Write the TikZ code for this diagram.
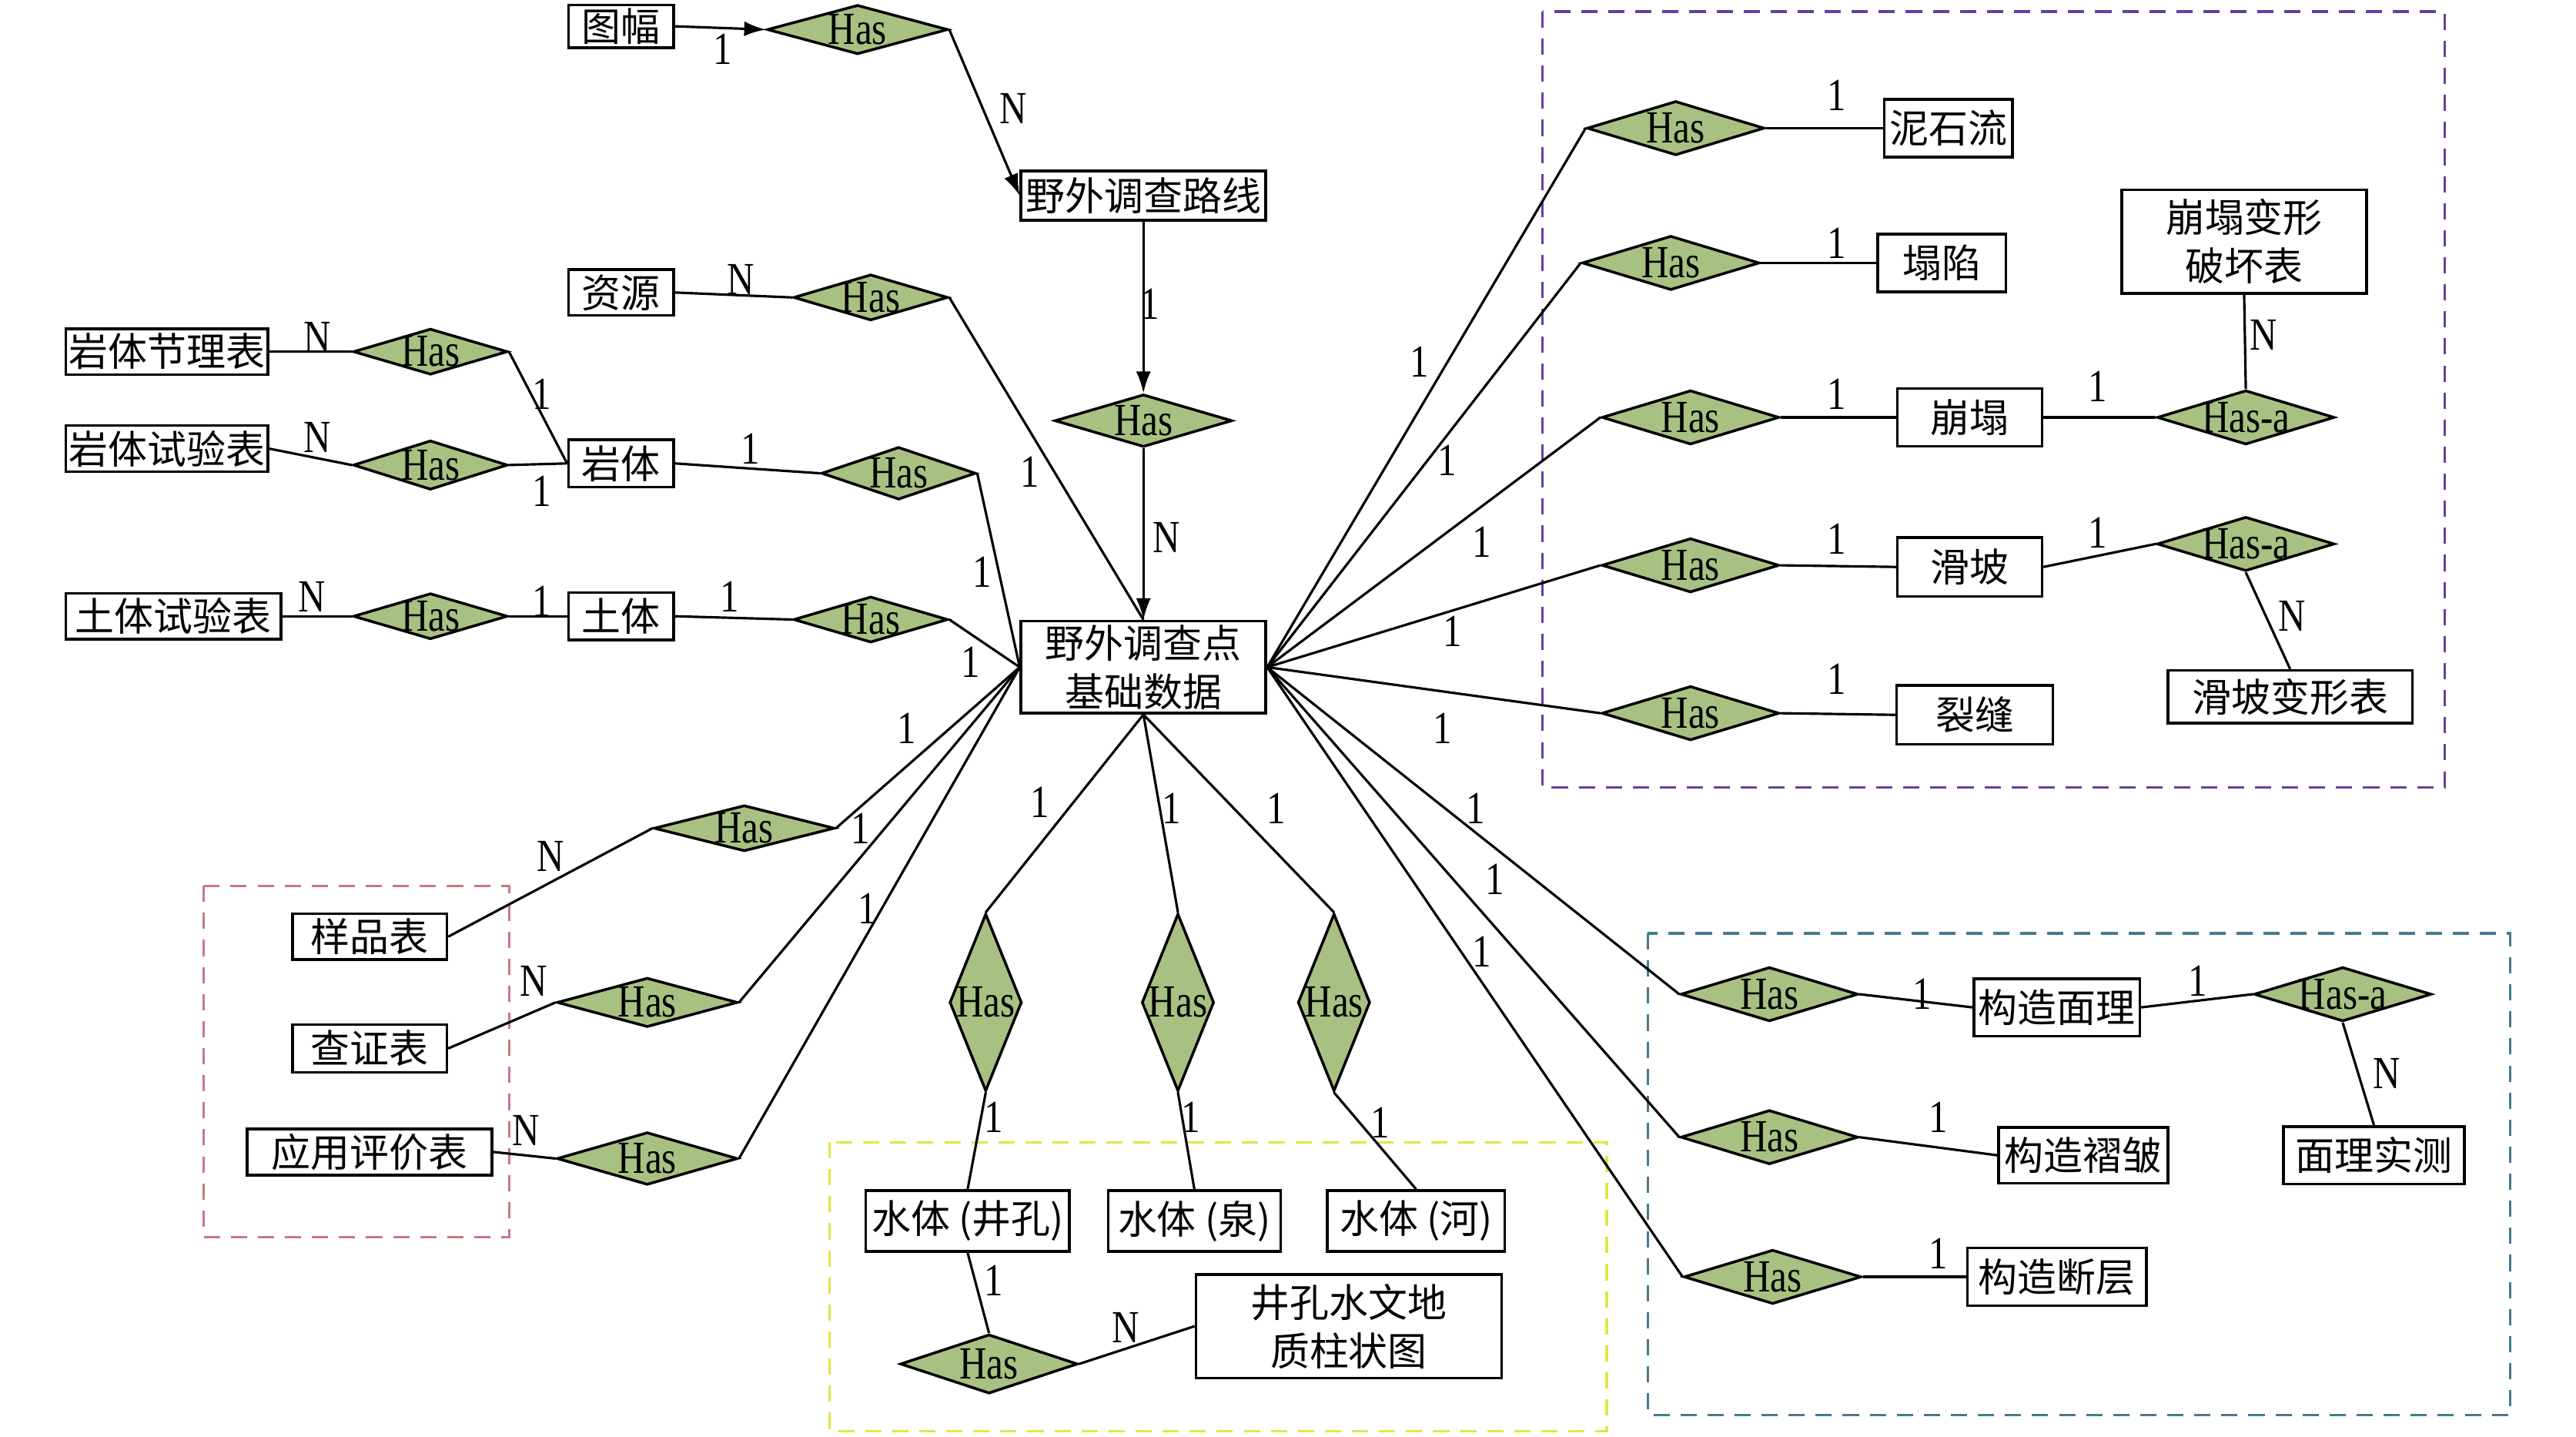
\documentclass[tikz,border=0pt]{standalone}
\usepackage{fontspec}
\setmainfont{Liberation Serif}[FakeStretch=0.82]
\newfontfamily\cjk{Noto Sans CJK SC}
\usetikzlibrary{shapes.geometric,arrows.meta}

\definecolor{relgreen}{RGB}{168,193,130}
\definecolor{grppink}{RGB}{200,120,130}
\definecolor{grpyellow}{RGB}{225,230,70}
\definecolor{grpblue}{RGB}{70,122,142}
\definecolor{grppurple}{RGB}{105,62,160}

\tikzset{
  ent/.style 2 args={draw, line width=1pt, fill=white, align=center, inner sep=0pt,
    font=\cjk\fontsize{14.5}{18}\selectfont,
    minimum width=#1*0.02134cm, minimum height=#2*0.02134cm},
  rel/.style 2 args={diamond, draw, line width=1pt, fill=relgreen, aspect=3,
    inner xsep=-6pt, inner ysep=0pt, font=\fontsize{17}{19}\selectfont,
    minimum width=#1*0.02134cm, minimum height=#2*0.02134cm},
  lab/.style={font=\fontsize{17}{19}\selectfont, inner sep=0pt},
  link/.style={line width=0.9pt},
  arr/.style={link, -{Latex[length=8pt,width=5.5pt]}},
  group/.style={line width=0.9pt, dash pattern=on 6pt off 4pt},
}

\begin{document}
\begin{tikzpicture}[x=0.02134cm, y=-0.02134cm]
\useasboundingbox (0,0) rectangle (1568,874);

% dashed groups
\draw[group, grppink] (124,539) rectangle (310,753);
\draw[group, grpyellow] (505,695) rectangle (978,871);
\draw[group, grpblue] (1003,568) rectangle (1528,861);
\draw[group, grppurple] (939,7) rectangle (1488,479);

% entities
\node[ent={64}{26}] (tufu) at (378,16) {图幅};
\node[ent={149}{30}] (route) at (696,119) {野外调查路线};
\node[ent={149}{56}] (base) at (696,406) {野外调查点\\基础数据};
\node[ent={64}{28}] (res) at (378,178) {资源};
\node[ent={123}{28}] (yjl) at (101.5,214) {岩体节理表};
\node[ent={123}{28}] (ysy) at (101.5,273) {岩体试验表};
\node[ent={64}{29}] (rock) at (378,282) {岩体};
\node[ent={131}{28}] (tsy) at (105.5,375) {土体试验表};
\node[ent={64}{29}] (soil) at (378,375) {土体};
\node[ent={94}{28}] (ypb) at (225,570) {样品表};
\node[ent={94}{29}] (czb) at (225,638) {查证表};
\node[ent={149}{28}] (yypj) at (225,701) {应用评价表};
\node[ent={124}{37}] (wwell) at (589,743) {水体 (井孔)};
\node[ent={105}{37}] (wspr) at (727,743) {水体 (泉)};
\node[ent={108}{37}] (wriv) at (862,743) {水体 (河)};
\node[ent={186}{63}] (zzt) at (821,807) {井孔水文地\\质柱状图};
\node[ent={78}{35}] (nsl) at (1186,78) {泥石流};
\node[ent={78}{35}] (tx) at (1182,160) {塌陷};
\node[ent={88}{35}] (bt) at (1199,254) {崩塌};
\node[ent={149}{63}] (btb) at (1366,147) {崩塌变形\\破坏表};
\node[ent={88}{36}] (hp) at (1199,345) {滑坡};
\node[ent={149}{32}] (hpb) at (1394,424) {滑坡变形表};
\node[ent={95}{36}] (lf) at (1202,435) {裂缝};
\node[ent={101}{35}] (gzml) at (1252,613) {构造面理};
\node[ent={103}{34}] (gzzz) at (1268,703) {构造褶皱};
\node[ent={109}{35}] (gzdc) at (1252,777) {构造断层};
\node[ent={110}{35}] (mlsc) at (1445,703) {面理实测};

% relations
\node[rel={110}{30}] (h1) at (522,18) {Has};
\node[rel={108}{32}] (h2) at (696,256) {Has};
\node[rel={94}{28}] (hzy) at (530,181) {Has};
\node[rel={94}{28}] (hjl) at (262,214) {Has};
\node[rel={94}{30}] (hsy) at (262,283) {Has};
\node[rel={94}{32}] (hrock) at (547,288) {Has};
\node[rel={94}{28}] (htsy) at (262,375) {Has};
\node[rel={94}{28}] (hsoil) at (530,377) {Has};
\node[rel={110}{28}] (hypb) at (453,504) {Has};
\node[rel={110}{30}] (hczb) at (394,610) {Has};
\node[rel={110}{32}] (hyypj) at (394,705) {Has};
\node[rel={44}{108}, aspect=0.5] (hwell) at (600,610) {Has};
\node[rel={44}{108}, aspect=0.5] (hspr) at (717,610) {Has};
\node[rel={44}{108}, aspect=0.5] (hriv) at (812,610) {Has};
\node[rel={108}{36}] (hzzt) at (602,830) {Has};
\node[rel={108}{33}] (hnsl) at (1020,78) {Has};
\node[rel={108}{33}] (htx) at (1017,160) {Has};
\node[rel={108}{33}] (hbt) at (1029,254) {Has};
\node[rel={108}{33}] (hbta) at (1367,254) {Has-a};
\node[rel={108}{33}] (hhp) at (1029,344) {Has};
\node[rel={108}{33}] (hhpa) at (1367,331) {Has-a};
\node[rel={108}{33}] (hlf) at (1029,434) {Has};
\node[rel={108}{33}] (hgzml) at (1077,605) {Has};
\node[rel={108}{33}] (hgzmla) at (1426,605) {Has-a};
\node[rel={108}{33}] (hgzzz) at (1077,692) {Has};
\node[rel={108}{33}] (hgzdc) at (1079,777) {Has};

% top chain
\draw[arr] (tufu.east) -- (h1.west) node[lab] at (440,30) {1};
\draw[arr] (h1.east) -- (route.west) node[lab] at (617,66) {N};
\draw[arr] (route.south) -- (h2.north) node[lab] at (700,185) {1};
\draw[arr] (h2.south) -- (base.north) node[lab] at (710,327) {N};

% left side
\draw[link] (res.east) -- (hzy.west) node[lab] at (451,170) {N};
\draw[link] (hzy.east) -- (base.north) node[lab] at (627,287) {1};
\draw[link] (yjl.east) -- (hjl.west) node[lab] at (193,205) {N};
\draw[link] (hjl.east) -- (rock.west) node[lab] at (330,240) {1};
\draw[link] (ysy.east) -- (hsy.west) node[lab] at (193,266) {N};
\draw[link] (hsy.east) -- (rock.west) node[lab] at (330,299) {1};
\draw[link] (rock.east) -- (hrock.west) node[lab] at (457,273) {1};
\draw[link] (hrock.east) -- (base.west) node[lab] at (598,348) {1};
\draw[link] (tsy.east) -- (htsy.west) node[lab] at (190,363) {N};
\draw[link] (htsy.east) -- (soil.west) node[lab] at (330,366) {1};
\draw[link] (soil.east) -- (hsoil.west) node[lab] at (444,363) {1};
\draw[link] (hsoil.east) -- (base.west) node[lab] at (591,403) {1};
\draw[link] (base.west) -- (hypb.east) node[lab] at (552,443) {1};
\draw[link] (hypb.west) -- (ypb.east) node[lab] at (335,521) {N};
\draw[link] (base.west) -- (hczb.east) node[lab] at (524,504) {1};
\draw[link] (hczb.west) -- (czb.east) node[lab] at (325,597) {N};
\draw[link] (base.west) -- (hyypj.east) node[lab] at (528,553) {1};
\draw[link] (hyypj.west) -- (yypj.east) node[lab] at (320,688) {N};

% water
\draw[link] (base.south) -- (hwell.north) node[lab] at (633,488) {1};
\draw[link] (base.south) -- (hspr.north) node[lab] at (713,492) {1};
\draw[link] (base.south) -- (hriv.north) node[lab] at (777,492) {1};
\draw[link] (hwell.south) -- (wwell.north) node[lab] at (605,680) {1};
\draw[link] (hspr.south) -- (wspr.north) node[lab] at (725,680) {1};
\draw[link] (hriv.south) -- (wriv.north) node[lab] at (840,683) {1};
\draw[link] (wwell.south) -- (hzzt.north) node[lab] at (605,779) {1};
\draw[link] (hzzt.east) -- (zzt.west) node[lab] at (685,808) {N};

% right side
\draw[link] (base.east) -- (hnsl.west) node[lab] at (864,220) {1};
\draw[link] (hnsl.east) -- (nsl.west) node[lab] at (1118,58) {1};
\draw[link] (base.east) -- (htx.west) node[lab] at (881,280) {1};
\draw[link] (htx.east) -- (tx.west) node[lab] at (1118,148) {1};
\draw[link] (base.east) -- (hbt.west) node[lab] at (902,330) {1};
\draw[link] (hbt.east) -- (bt.west) node[lab] at (1118,240) {1};
\draw[link] (bt.east) -- (hbta.west) node[lab] at (1277,235) {1};
\draw[link] (hbta.north) -- (btb.south) node[lab] at (1378,204) {N};
\draw[link] (base.east) -- (hhp.west) node[lab] at (884,384) {1};
\draw[link] (hhp.east) -- (hp.west) node[lab] at (1118,328) {1};
\draw[link] (hp.east) -- (hhpa.west) node[lab] at (1277,324) {1};
\draw[link] (hhpa.south) -- (hpb.north) node[lab] at (1395,375) {N};
\draw[link] (base.east) -- (hlf.west) node[lab] at (878,443) {1};
\draw[link] (hlf.east) -- (lf.west) node[lab] at (1118,413) {1};
\draw[link] (base.east) -- (hgzml.west) node[lab] at (898,492) {1};
\draw[link] (hgzml.east) -- (gzml.west) node[lab] at (1170,605) {1};
\draw[link] (gzml.east) -- (hgzmla.west) node[lab] at (1338,597) {1};
\draw[link] (hgzmla.south) -- (mlsc.north) node[lab] at (1453,653) {N};
\draw[link] (base.east) -- (hgzzz.west) node[lab] at (910,535) {1};
\draw[link] (hgzzz.east) -- (gzzz.west) node[lab] at (1180,680) {1};
\draw[link] (base.east) -- (hgzdc.west) node[lab] at (902,579) {1};
\draw[link] (hgzdc.east) -- (gzdc.west) node[lab] at (1180,763) {1};
\end{tikzpicture}
\end{document}
